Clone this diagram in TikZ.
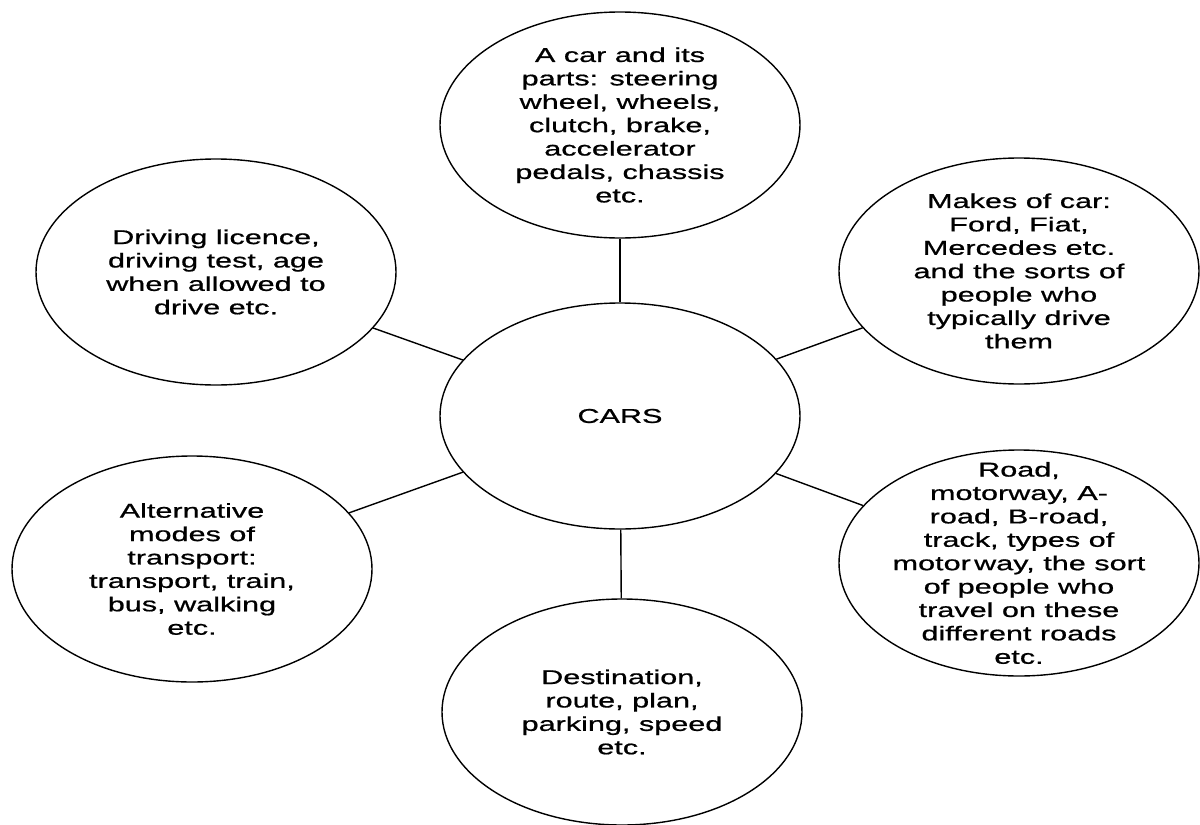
\documentclass[tikz,border=0pt]{standalone}
\usepackage{fontspec}
\setmainfont{Liberation Sans}[FakeStretch=1.53,FakeBold=0.8]
\usetikzlibrary{shapes.geometric}
\tikzset{bubble/.style={draw, ellipse, line width=0.7pt, minimum width=180pt, minimum height=113pt, inner sep=0pt}}
\tikzset{txt/.style={align=center, inner sep=0pt, font=\fontsize{10}{11.7}\selectfont}}
\tikzset{spoke/.style={line width=0.7pt}}

\begin{document}
\begin{tikzpicture}[x=0.5pt, y=-0.5pt]
  \useasboundingbox (0,0) rectangle (1200,825);

    % the hub and its six bubbles
    \node[bubble] (cars) at (620,416) {};
    \node[bubble] (parts) at (620,125) {};
    \node[bubble] (licence) at (216,272) {};
    \node[bubble] (makes) at (1019,271) {};
    \node[bubble] (modes) at (192,569) {};
    \node[bubble] (roads) at (1019,563) {};
    \node[bubble] (route) at (622,712) {};

    \node[txt] at (cars) {CARS};
    \node[txt] at (parts) {A car and its\\parts: steering\\wheel, wheels,\\clutch, brake,\\accelerator\\pedals, chassis\\etc.};
    \node[txt] at (licence) {Driving licence,\\driving test, age\\when allowed to\\drive etc.};
    \node[txt] at (makes) {Makes of car:\\Ford, Fiat,\\Mercedes etc.\\and the sorts of\\people who\\typically drive\\them};
    \node[txt] at (modes) {Alternative\\modes of\\transport:\\transport, train,\\bus, walking\\etc.};
    \node[txt] at (roads) {Road,\\motorway, A-\\road, B-road,\\track, types of\\motor\,way, the sort\\of people who\\travel on these\\different roads\\etc.};
    \node[txt] at (route) {Destination,\\route, plan,\\parking, speed\\etc.};

    % spokes
    \draw[spoke] (cars) -- (parts);
    \draw[spoke] (cars) -- (licence);
    \draw[spoke] (cars) -- (makes);
    \draw[spoke] (cars) -- (modes);
    \draw[spoke] (cars) -- (roads);
    \draw[spoke] (cars) -- (route);
\end{tikzpicture}
\end{document}
